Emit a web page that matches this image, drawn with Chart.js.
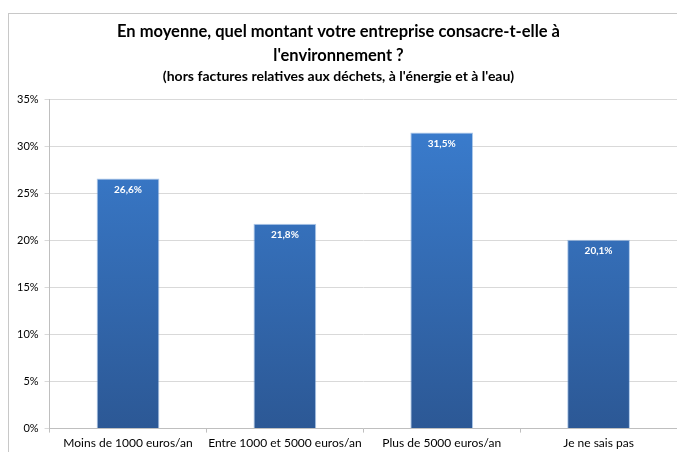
<!DOCTYPE html>
<html lang="fr">
<head>
  <meta charset="UTF-8" />
  <title>Montant consacré à l'environnement</title>
  <style>
    * { margin: 0; padding: 0; box-sizing: border-box; }
    body {
      background: #ffffff;
      width: 677px;
      height: 452px;
      overflow: hidden;
      position: relative;
      font-family: 'Lato', sans-serif;
    }
    /* cadre gris du graphique (coupé à droite et en bas) */
    .frame {
      position: absolute;
      left: 8px;
      top: 13px;
      width: 720px;
      height: 520px;
      border: 1px solid #c8c8c8;
    }
    .chart-box {
      position: absolute;
      left: 0;
      top: 0;
      width: 677px;
      height: 452px;
    }
  </style>
</head>
<body>
  <div class="frame"></div>
  <div class="chart-box">
    <canvas id="envChart" width="677" height="452"></canvas>
  </div>
  <script src="https://cdn.jsdelivr.net/npm/chart.js"></script>
  <script>
    // Données
    const categories = [
      "Moins de 1000 euros/an",
      "Entre 1000 et 5000 euros/an",
      "Plus de 5000 euros/an",
      "Je ne sais pas"
    ];
    const percentages = [26.6, 21.8, 31.5, 20.1];
    const yTicks = [0, 5, 10, 15, 20, 25, 30, 35];
    const titleLines = [
      "En moyenne, quel montant votre entreprise consacre-t-elle à",
      "l'environnement ?"
    ];
    const subtitleText = "(hors factures relatives aux déchets, à l'énergie et à l'eau)";

    // dégradé vertical des barres
    function barGradient(context) {
      const chart = context.chart;
      const area = chart.chartArea;
      if (!area) return "#3a74c2";
      const g = chart.ctx.createLinearGradient(0, area.top, 0, area.bottom);
      g.addColorStop(0, "#3b7fd2");
      g.addColorStop(1, "#2c5895");
      return g;
    }

    // étiquettes de valeur en blanc, en haut de chaque barre
    const valueLabels = {
      id: "valueLabels",
      afterDatasetsDraw(chart) {
        const ctx = chart.ctx;
        const meta = chart.getDatasetMeta(0);
        ctx.save();
        ctx.fillStyle = "#ffffff";
        ctx.font = "bold 10px 'Lato', sans-serif";
        ctx.textAlign = "center";
        ctx.textBaseline = "middle";
        meta.data.forEach((bar, i) => {
          const txt = percentages[i].toFixed(1).replace(".", ",") + "%";
          ctx.fillText(txt, bar.x, bar.y + 11);
        });
        ctx.restore();
      }
    };

    const ctx = document.getElementById("envChart").getContext("2d");
    new Chart(ctx, {
      type: "bar",
      data: {
        labels: categories,
        datasets: [{
          data: percentages,
          backgroundColor: barGradient,
          borderColor: "rgba(120,165,220,0.6)",
          borderWidth: 1,
          barPercentage: 0.40,
          categoryPercentage: 1.0
        }]
      },
      options: {
        responsive: false,
        animation: false,
        events: [],
        layout: { padding: { top: 20, left: 0, right: 0, bottom: -1 } },
        scales: {
          x: {
            grid: {
              display: true,
              drawOnChartArea: false,
              offset: true,
              tickLength: 4,
              color: "#bfbfbf"
            },
            border: { color: "#bfbfbf" },
            ticks: {
              color: "#000000",
              padding: 3,
              maxRotation: 0,
              autoSkip: false,
              font: { family: "'Lato', sans-serif", size: 12 }
            }
          },
          y: {
            min: 0,
            max: 35,
            afterBuildTicks(axis) {
              axis.ticks = yTicks.map(v => ({ value: v }));
            },
            afterFit(axis) {
              axis.width += 11;
            },
            grid: { color: "#d9d9d9", tickLength: 5 },
            border: { color: "#bfbfbf" },
            ticks: {
              color: "#000000",
              padding: 6,
              font: { family: "'Lato', sans-serif", size: 11 },
              callback: v => v + "%"
            }
          }
        },
        plugins: {
          legend: { display: false },
          tooltip: { enabled: false },
          title: {
            display: true,
            text: titleLines,
            color: "#000000",
            font: { family: "'Lato', sans-serif", size: 16.5, weight: "bold", lineHeight: 1.45 },
            padding: { top: 0, bottom: 0 }
          },
          subtitle: {
            display: true,
            text: subtitleText,
            color: "#000000",
            font: { family: "'Lato', sans-serif", size: 14, weight: "bold", lineHeight: 1.2 },
            padding: { top: 0, bottom: 15 }
          }
        }
      },
      plugins: [valueLabels]
    });
  </script>
</body>
</html>
